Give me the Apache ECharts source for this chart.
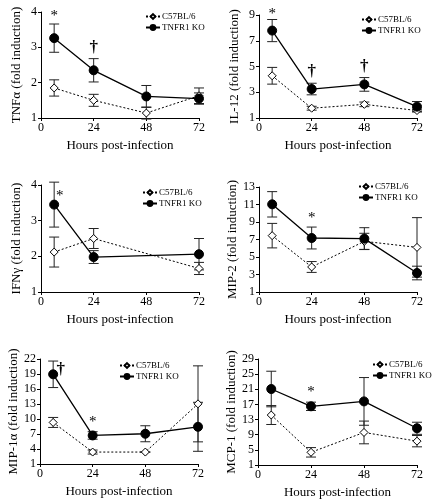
<!DOCTYPE html>
<html>
<head>
<meta charset="utf-8">
<script src="https://cdn.jsdelivr.net/npm/echarts@6/dist/echarts.min.js"></script>
<style>
html,body{margin:0;padding:0;background:#fff;}
#chart{width:436px;height:503px;}
</style>
</head>
<body>
<div id="chart"></div>
<script>
// ---- Data ----
var hours = [6, 24, 48, 72];
var hoursIfn = [6, 24, 72];
var xTicks = [0, 24, 48, 72];
var seriesNames = ['C57BL/6', 'TNFR1 KO'];

var tnfC57 = [1.85, 1.50, 1.14, 1.63];
var tnfC57Err = [0.23, 0.17, 0.17, 0.22];
var tnfKO = [3.26, 2.35, 1.61, 1.55];
var tnfKOErr = [0.40, 0.33, 0.31, 0.16];
var tnfMarks = [[6, 3.88, '*'], [24, 3.0, '†']];

var il12C57 = [4.28, 1.76, 2.06, 1.58];
var il12C57Err = [0.65, 0.15, 0.18, 0.10];
var il12KO = [7.79, 3.25, 3.61, 1.88];
var il12KOErr = [0.86, 0.45, 0.53, 0.40];
var il12Marks = [[6, 9.1, '*'], [24, 4.6, '†'], [48, 5.0, '†']];

var ifnC57 = [2.12, 2.50, 1.66];
var ifnC57Err = [0.42, 0.28, 0.17];
var ifnKO = [3.45, 1.98, 2.06];
var ifnKOErr = [0.63, 0.18, 0.44];
var ifnMarks = [[8.5, 3.68, '*']];

var mip2C57 = [7.44, 3.86, 6.79, 6.10];
var mip2C57Err = [1.40, 0.62, 0.92, 3.40];
var mip2KO = [11.02, 7.17, 7.10, 3.17];
var mip2KOErr = [1.45, 1.25, 1.25, 0.78];
var mip2Marks = [[24, 9.4, '*']];

var mip1aC57 = [9.31, 3.39, 3.39, 13.03];
var mip1aC57Err = [1.0, 0.40, 0.0, 7.6];
var mip1aKO = [18.94, 6.71, 7.05, 8.44];
var mip1aKOErr = [2.65, 0.75, 1.6, 4.9];
var mip1aMarks = [[9.5, 19.9, '†'], [24, 9.3, '*']];

var mcp1C57 = [14.2, 4.35, 9.6, 7.3];
var mcp1C57Err = [2.5, 1.25, 3.0, 1.5];
var mcp1KO = [21.07, 16.5, 17.8, 10.7];
var mcp1KOErr = [4.7, 1.1, 6.3, 1.6];
var mcp1Marks = [[24, 20.3, '*']];

// ---- Panel layout ----
var FONT = 'Liberation Serif';
var panels = [
  {name: 'TNFα (fold induction)', x: hours, c57: tnfC57, c57e: tnfC57Err, ko: tnfKO, koe: tnfKOErr, marks: tnfMarks,
   min: 1, max: 4, interval: 1, grid: {left: 41, top: 12, width: 158, height: 106}, legend: {left: 145, top: 12}},
  {name: 'IL-12 (fold induction)', x: hours, c57: il12C57, c57e: il12C57Err, ko: il12KO, koe: il12KOErr, marks: il12Marks,
   min: 1, max: 9, interval: 2, grid: {left: 259, top: 15, width: 158, height: 103}, legend: {left: 361, top: 15}},
  {name: 'IFNγ (fold induction)', x: hoursIfn, c57: ifnC57, c57e: ifnC57Err, ko: ifnKO, koe: ifnKOErr, marks: ifnMarks,
   min: 1, max: 4, interval: 1, grid: {left: 41, top: 185, width: 158, height: 107}, legend: {left: 142, top: 188}},
  {name: 'MIP-2 (fold induction)', x: hours, c57: mip2C57, c57e: mip2C57Err, ko: mip2KO, koe: mip2KOErr, marks: mip2Marks,
   min: 1, max: 13, interval: 2, grid: {left: 259, top: 187, width: 158, height: 105}, legend: {left: 358, top: 182}},
  {name: 'MIP-1α (fold induction)', x: hours, c57: mip1aC57, c57e: mip1aC57Err, ko: mip1aKO, koe: mip1aKOErr, marks: mip1aMarks,
   min: 1, max: 22, interval: 3, grid: {left: 40, top: 359, width: 158, height: 105}, legend: {left: 119, top: 361}},
  {name: 'MCP-1 (fold induction)', x: hours, c57: mcp1C57, c57e: mcp1C57Err, ko: mcp1KO, koe: mcp1KOErr, marks: mcp1Marks,
   min: 1, max: 29, interval: 4, grid: {left: 258, top: 359, width: 159, height: 106}, legend: {left: 372, top: 360}}
];

function pairs(xs, ys) { return xs.map(function (x, i) { return [x, ys[i]]; }); }
function triples(xs, ys, es) { return xs.map(function (x, i) { return [x, ys[i], es[i]]; }); }

function errRender(params, api) {
  var x = api.value(0), y = api.value(1), e = api.value(2);
  var t = api.coord([x, y + e]);
  var b = api.coord([x, y - e]);
  var hw = 5;
  var st = {stroke: '#222', lineWidth: 1};
  return {
    type: 'group',
    children: [
      {type: 'line', shape: {x1: t[0], y1: t[1], x2: b[0], y2: b[1]}, style: st},
      {type: 'line', shape: {x1: t[0] - hw, y1: t[1], x2: t[0] + hw, y2: t[1]}, style: st},
      {type: 'line', shape: {x1: b[0] - hw, y1: b[1], x2: b[0] + hw, y2: b[1]}, style: st}
    ]
  };
}
function textRender(params, api) {
  var p = api.coord([api.value(0), api.value(1)]);
  var txt = api.value(2);
  return {
    type: 'text', x: p[0], y: p[1],
    style: {text: txt, fill: '#000', fontFamily: FONT,
      fontSize: txt === '†' ? 17 : 15, fontWeight: txt === '†' ? 'bold' : 'normal',
      align: 'center', verticalAlign: 'middle'}
  };
}

var option = {
  animation: false,
  backgroundColor: '#fff',
  grid: [], xAxis: [], yAxis: [], series: [], legend: []
};

panels.forEach(function (p, i) {
  option.grid.push(Object.assign({containLabel: false}, p.grid));
  option.xAxis.push({
    type: 'value', gridIndex: i, min: 0, max: 72, interval: 24,
    name: 'Hours post-infection', nameLocation: 'middle', nameGap: 21,
    nameTextStyle: {fontFamily: FONT, fontSize: 13, color: '#000'},
    axisLine: {lineStyle: {color: '#000', width: 1}},
    axisTick: {show: true, inside: false, length: 3, lineStyle: {color: '#000'}},
    axisLabel: {fontFamily: FONT, fontSize: 12, color: '#000', margin: 4,
      formatter: function (v) { return xTicks.indexOf(v) >= 0 ? String(v) : ''; }},
    splitLine: {show: false}
  });
  option.yAxis.push({
    type: 'value', gridIndex: i, min: p.min, max: p.max, interval: p.interval,
    name: p.name, nameLocation: 'middle', nameGap: 18, nameRotate: 90,
    nameTextStyle: {fontFamily: FONT, fontSize: 13, color: '#000'},
    axisLine: {show: true, lineStyle: {color: '#000', width: 1}},
    axisTick: {show: true, inside: false, length: 3, lineStyle: {color: '#000'}},
    axisLabel: {fontFamily: FONT, fontSize: 12, color: '#000', margin: 4},
    splitLine: {show: false}
  });
  option.series.push({
    type: 'custom', xAxisIndex: i, yAxisIndex: i, renderItem: errRender, z: 1,
    data: triples(p.x, p.c57, p.c57e), silent: true
  });
  option.series.push({
    type: 'custom', xAxisIndex: i, yAxisIndex: i, renderItem: errRender, z: 1,
    data: triples(p.x, p.ko, p.koe), silent: true
  });
  option.series.push({
    name: seriesNames[0], type: 'line', xAxisIndex: i, yAxisIndex: i, z: 3,
    data: pairs(p.x, p.c57), symbol: 'diamond', symbolSize: 8,
    lineStyle: {color: '#000', width: 1, type: [2, 2]},
    itemStyle: {color: '#fff', borderColor: '#000', borderWidth: 1}
  });
  option.series.push({
    name: seriesNames[1], type: 'line', xAxisIndex: i, yAxisIndex: i, z: 4,
    data: pairs(p.x, p.ko), symbol: 'circle', symbolSize: 9,
    lineStyle: {color: '#000', width: 1.3, type: 'solid'},
    itemStyle: {color: '#000', borderColor: '#000', borderWidth: 1}
  });
  option.series.push({
    type: 'custom', xAxisIndex: i, yAxisIndex: i, renderItem: textRender, z: 5,
    data: p.marks, silent: true
  });
  option.legend.push({
    left: p.legend.left, top: p.legend.top, orient: 'vertical',
    itemWidth: 14, itemHeight: 6, itemGap: 2, padding: 0,
    textStyle: {fontFamily: FONT, fontSize: 9, color: '#000', padding: [0, 0, 0, -3]},
    data: seriesNames, selectedMode: false
  });
});

var chart = echarts.init(document.getElementById('chart'), null, {renderer: 'canvas'});
chart.setOption(option);
</script>
</body>
</html>
